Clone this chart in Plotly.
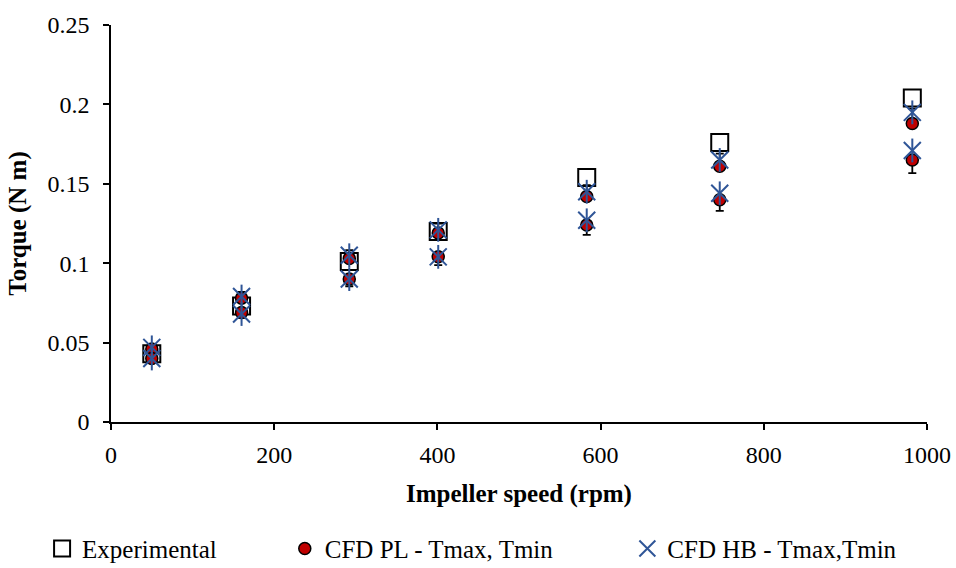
import plotly.graph_objects as go

speed = [50, 160, 292, 401, 583, 746, 982]
exp_torque = [0.043, 0.073, 0.101, 0.120, 0.154, 0.176, 0.204]
pl_tmax = [0.046, 0.078, 0.103, 0.119, 0.142, 0.161, 0.188]
pl_tmin = [0.040, 0.069, 0.090, 0.104, 0.124, 0.140, 0.165]
hb_tmax = [0.047, 0.079, 0.105, 0.121, 0.145, 0.165, 0.195]
hb_tmin = [0.040, 0.068, 0.090, 0.104, 0.127, 0.144, 0.171]
err_pct = 5

FONT = "Liberation Serif, Times New Roman, serif"
BLUE = "#2F5597"
RED = "#C00000"

fig = go.Figure()

fig.add_trace(go.Scatter(
    x=speed, y=exp_torque, mode="markers", name="Experimental", legend="legend",
    marker=dict(symbol="square-open", size=17, color="black", line=dict(width=2, color="black")),
))

fig.add_trace(go.Scatter(
    x=speed, y=pl_tmax, mode="markers", name="CFD PL - Tmax, Tmin", legend="legend2", legendgroup="pl",
    marker=dict(symbol="circle", size=12, color=RED, line=dict(width=1.5, color="black")),
    error_y=dict(type="percent", symmetric=False, value=err_pct, valueminus=0,
                 color="black", thickness=1.8, width=4),
))
fig.add_trace(go.Scatter(
    x=speed, y=pl_tmin, mode="markers", name="CFD PL - Tmax, Tmin", legend="legend2", legendgroup="pl",
    showlegend=False,
    marker=dict(symbol="circle", size=12, color=RED, line=dict(width=1.5, color="black")),
    error_y=dict(type="percent", symmetric=False, value=0, valueminus=err_pct,
                 color="black", thickness=1.8, width=4),
))

for i, vals in enumerate([hb_tmax, hb_tmin]):
    fig.add_trace(go.Scatter(
        x=speed, y=vals, mode="markers", name="CFD HB - Tmax,Tmin", legend="legend3", legendgroup="hb",
        showlegend=(i == 0),
        marker=dict(symbol="x-thin-open", size=17, color=BLUE, line=dict(width=2, color=BLUE)),
    ))
    fig.add_trace(go.Scatter(
        x=speed, y=vals, mode="markers", name="CFD HB - Tmax,Tmin", legend="legend3", legendgroup="hb",
        showlegend=False,
        marker=dict(symbol="line-ns-open", size=17, color=BLUE, line=dict(width=2, color=BLUE)),
    ))

axis_common = dict(
    showline=True, linecolor="black", linewidth=1.5, showgrid=False, zeroline=False,
    ticks="outside", ticklen=6, tickwidth=1.5, tickcolor="black",
    tickfont=dict(family=FONT, size=24, color="black"),
)

fig.update_xaxes(range=[0, 1000], dtick=200, tick0=0, ticklabelstandoff=4,
                 title=dict(text="<b>Impeller speed (rpm)</b>", font=dict(family=FONT, size=25, color="black"), standoff=18),
                 **axis_common)
fig.update_yaxes(range=[0, 0.25], dtick=0.05, tick0=0, ticklabelstandoff=9,
                 title=dict(text="<b>Torque (N m)</b>", font=dict(family=FONT, size=25, color="black"), standoff=14),
                 **axis_common)

leg_common = dict(orientation="h", yref="container", y=0.034, yanchor="middle", xanchor="left",
                  font=dict(family=FONT, size=25, color="black"), bgcolor="rgba(0,0,0,0)",
                  itemwidth=30)

fig.update_layout(
    width=956, height=568,
    margin=dict(l=111, r=29, t=25, b=146, autoexpand=False),
    plot_bgcolor="white", paper_bgcolor="white",
    font=dict(family=FONT, size=24, color="black"),
    showlegend=True,
    legend=dict(x=(42 - 111) / 817, **leg_common),
    legend2=dict(x=(285 - 111) / 817, **leg_common),
    legend3=dict(x=(628 - 111) / 817, **leg_common),
)

fig.write_html("out.html")
